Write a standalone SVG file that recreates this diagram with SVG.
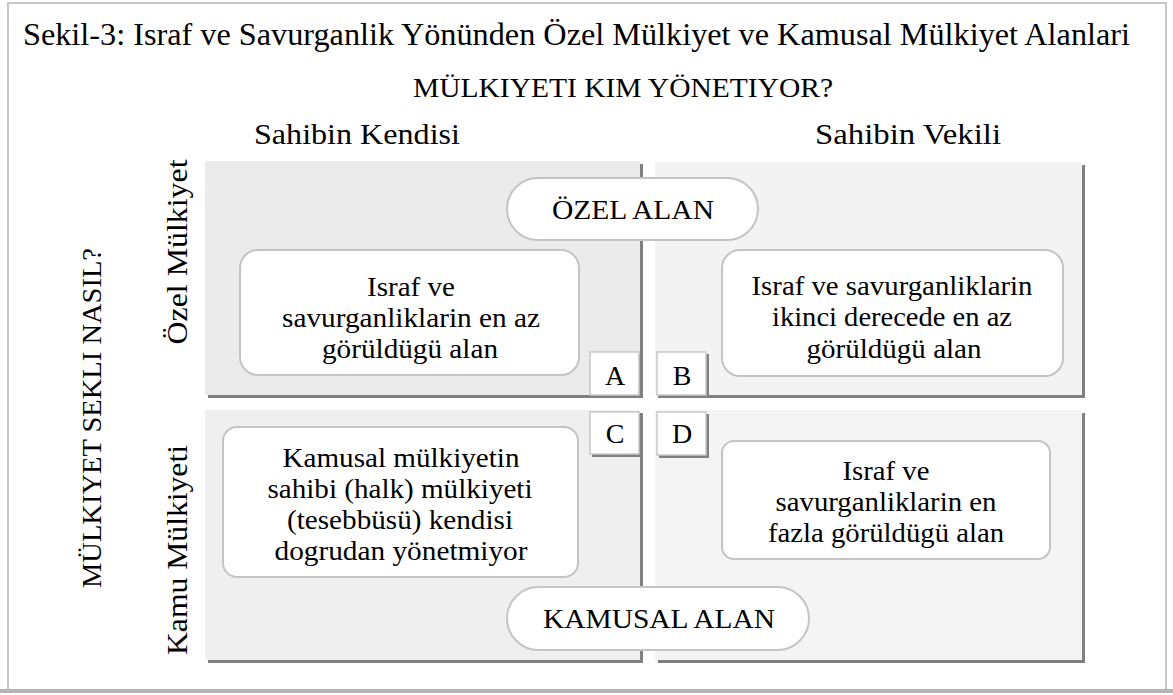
<svg xmlns="http://www.w3.org/2000/svg" width="1173" height="695" viewBox="0 0 1173 695">
<style>
text{font-family:"Liberation Serif","Times New Roman",serif;fill:#000;}
.t{font-size:28px;text-anchor:middle;}
.shadow{fill:#808080;}
.box{fill:#fff;stroke:#c4c4c4;stroke-width:2;}
.lbl{fill:#fff;stroke:#c8c8c8;stroke-width:1.5;}
</style>
<rect x="0" y="0" width="1173" height="695" fill="#fff"/>
<rect id="frame" x="8" y="3" width="1158" height="688" fill="none" stroke="#c8c8c8" stroke-width="2"/>
<rect x="0" y="689" width="1173" height="4" fill="#b4b4b4"/>

<g id="title">
<text x="23" y="45" font-size="31" textLength="1107" lengthAdjust="spacingAndGlyphs">Sekil-3: Israf ve Savurganlik Yönünden Özel Mülkiyet ve Kamusal Mülkiyet Alanlari</text>
<text x="623" y="97" font-size="27" text-anchor="middle" textLength="420" lengthAdjust="spacingAndGlyphs">MÜLKIYETI KIM YÖNETIYOR?</text>
<text x="357" y="144" font-size="29" text-anchor="middle" textLength="206" lengthAdjust="spacingAndGlyphs">Sahibin Kendisi</text>
<text x="908" y="144" font-size="29" text-anchor="middle" textLength="186" lengthAdjust="spacingAndGlyphs">Sahibin Vekili</text>
<text transform="translate(101,418) rotate(-90)" font-size="27" text-anchor="middle" textLength="340" lengthAdjust="spacingAndGlyphs">MÜLKIYET SEKLI NASIL?</text>
<text transform="translate(187,252) rotate(-90)" font-size="29" text-anchor="middle" textLength="185" lengthAdjust="spacingAndGlyphs">Özel Mülkiyet</text>
<text transform="translate(187,550) rotate(-90)" font-size="29" text-anchor="middle" textLength="210" lengthAdjust="spacingAndGlyphs">Kamu Mülkiyeti</text>
</g>

<g id="quadA">
<rect class="shadow" x="208" y="164" width="435" height="234"/>
<rect x="205" y="161" width="435" height="234" fill="#ebebeb"/>
</g>
<g id="quadB">
<rect class="shadow" x="658" y="165" width="427" height="233"/>
<rect x="655" y="162" width="427" height="233" fill="#f3f3f3"/>
</g>
<g id="quadC">
<rect class="shadow" x="208" y="413" width="435" height="250"/>
<rect x="205" y="410" width="435" height="250" fill="#efefef"/>
</g>
<g id="quadD">
<rect class="shadow" x="658" y="413" width="427" height="250"/>
<rect x="655" y="410" width="427" height="250" fill="#f4f4f4"/>
</g>

<g id="ozel-alan">
<rect class="box" x="507" y="178" width="251" height="62" rx="31"/>
<text class="t" x="633" y="219" textLength="162" lengthAdjust="spacingAndGlyphs">ÖZEL ALAN</text>
</g>
<g id="kamusal-alan">
<rect class="box" x="507" y="587" width="302" height="63" rx="31.5"/>
<text class="t" x="659" y="628" textLength="232" lengthAdjust="spacingAndGlyphs">KAMUSAL ALAN</text>
</g>

<g id="boxA">
<rect class="box" x="240" y="250" width="339" height="125" rx="18"/>
<text class="t" x="411" y="296" textLength="88" lengthAdjust="spacingAndGlyphs">Israf ve</text>
<text class="t" x="411" y="327" textLength="258" lengthAdjust="spacingAndGlyphs">savurganliklarin en az</text>
<text class="t" x="410" y="358" textLength="176" lengthAdjust="spacingAndGlyphs">görüldügü alan</text>
</g>
<g id="boxB">
<rect class="box" x="722" y="250" width="341" height="126" rx="18"/>
<text class="t" x="892" y="295" textLength="281" lengthAdjust="spacingAndGlyphs">Israf ve savurganliklarin</text>
<text class="t" x="892" y="326" textLength="240" lengthAdjust="spacingAndGlyphs">ikinci derecede en az</text>
<text class="t" x="894" y="358" textLength="175" lengthAdjust="spacingAndGlyphs">görüldügü alan</text>
</g>
<g id="boxC">
<rect class="box" x="223" y="427" width="355" height="150" rx="14"/>
<text class="t" x="401" y="467" textLength="237" lengthAdjust="spacingAndGlyphs">Kamusal mülkiyetin</text>
<text class="t" x="400" y="498" textLength="265" lengthAdjust="spacingAndGlyphs">sahibi (halk) mülkiyeti</text>
<text class="t" x="400" y="529" textLength="226" lengthAdjust="spacingAndGlyphs">(tesebbüsü) kendisi</text>
<text class="t" x="401" y="560" textLength="253" lengthAdjust="spacingAndGlyphs">dogrudan yönetmiyor</text>
</g>
<g id="boxD">
<rect class="box" x="722" y="441" width="328" height="118" rx="12"/>
<text class="t" x="886" y="480" textLength="87" lengthAdjust="spacingAndGlyphs">Israf ve</text>
<text class="t" x="886" y="511" textLength="221" lengthAdjust="spacingAndGlyphs">savurganliklarin en</text>
<text class="t" x="886" y="542" textLength="236" lengthAdjust="spacingAndGlyphs">fazla görüldügü alan</text>
</g>

<g id="labelA">
<rect class="shadow" x="592" y="354" width="50" height="44"/>
<rect class="lbl" x="590" y="352" width="49" height="43"/>
<text class="t" x="615" y="385" font-size="26">A</text>
</g>
<g id="labelB">
<rect class="shadow" x="659" y="354" width="50" height="44"/>
<rect class="lbl" x="657" y="352" width="49" height="43"/>
<text class="t" x="682" y="385" font-size="26">B</text>
</g>
<g id="labelC">
<rect class="shadow" x="592" y="414" width="50" height="43"/>
<rect class="lbl" x="590" y="412" width="49" height="42"/>
<text class="t" x="615" y="443" font-size="26">C</text>
</g>
<g id="labelD">
<rect class="shadow" x="659" y="414" width="50" height="44"/>
<rect class="lbl" x="657" y="412" width="49" height="43"/>
<text class="t" x="682" y="443" font-size="26">D</text>
</g>
<g id="connectors"></g>
</svg>
